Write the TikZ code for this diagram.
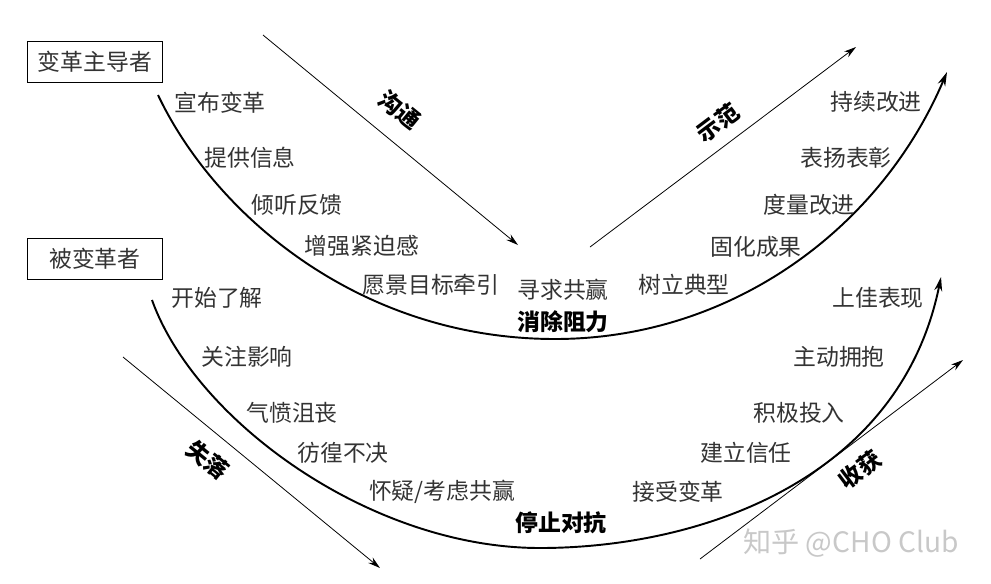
\documentclass[tikz,border=0pt]{standalone}
\usepackage{fontspec}
\setmainfont{Noto Sans CJK SC}
\usetikzlibrary{arrows.meta, positioning}
\definecolor{labelGrey}{RGB}{51, 51, 51}
\definecolor{markGrey}{RGB}{200, 200, 200}

\begin{document}
\begin{tikzpicture}[x=0.02cm, y=-0.02cm,
    every node/.style={font=\fontsize{13}{15}\selectfont, text=labelGrey, inner sep=0pt},
    role/.style={draw, line width=1pt, minimum width=2.7cm, minimum height=0.82cm},
    phase/.style={font=\fontsize{13}{15}\selectfont\bfseries, text=black},
    flow/.style={-{Stealth[length=7pt, width=4pt]}, line width=0.45pt},
    curve/.style={-{Stealth[length=8pt, width=4.5pt]}, line width=1.1pt}]
    \useasboundingbox (0,0) rectangle (991,583);
    % Roles
    \node[role] (leader) at (95, 62) {变革主导者};
    \node[role] (follower) at (95, 259) {被变革者};
    % Upper curve
    \coordinate (upStart) at (158, 95);
    \coordinate (upLow) at (555, 339);
    \coordinate (upEnd) at (947, 72);
    \draw[curve] (upStart) .. controls (215, 215) and (360, 339) .. (upLow)
        .. controls (730, 339) and (880, 230) .. (upEnd);
    % Lower curve
    \coordinate (lowStart) at (152, 300);
    \coordinate (lowLow) at (540, 548);
    \coordinate (lowEnd) at (941, 277);
    \draw[curve] (lowStart) .. controls (195, 420) and (370, 548) .. (lowLow)
        .. controls (700, 548) and (900, 480) .. (lowEnd);
    % Straight arrows
    \coordinate (talkA) at (263, 35);
    \coordinate (talkB) at (518, 245);
    \coordinate (showA) at (590, 247);
    \coordinate (showB) at (856, 47);
    \coordinate (lossA) at (123, 357);
    \coordinate (lossB) at (380, 568);
    \coordinate (gainA) at (700, 559);
    \coordinate (gainB) at (963, 360);
    \draw[flow] (talkA) -- (talkB);
    \draw[flow] (showA) -- (showB);
    \draw[flow] (lossA) -- (lossB);
    \draw[flow] (gainA) -- (gainB);
    \node[phase, rotate=-39] (talk) at (400, 110) {沟通};
    \node[phase, rotate=37] (show) at (718, 123) {示范};
    \node[phase, rotate=-39] (loss) at (208, 460) {失落};
    \node[phase, rotate=37] (gain) at (860, 470) {收获};
    % Leader stages
    \node (s1) at (220, 103) {宣布变革};
    \node (s2) at (250, 158) {提供信息};
    \node (s3) at (297, 205) {倾听反馈};
    \node (s4) at (362, 246) {增强紧迫感};
    \node (s5) at (431, 285) {愿景目标牵引};
    \node (s6) at (563, 290) {寻求共赢};
    \node[phase] (upPhase) at (563, 322) {消除阻力};
    \node (s7) at (684, 285) {树立典型};
    \node (s8) at (756, 247) {固化成果};
    \node (s9) at (809, 205) {度量改进};
    \node (s10) at (846, 158) {表扬表彰};
    \node (s11) at (876, 102) {持续改进};
    % Follower stages
    \node (f1) at (217, 298) {开始了解};
    \node (f2) at (247, 357) {关注影响};
    \node (f3) at (292, 413) {气愤沮丧};
    \node (f4) at (343, 453) {彷徨不决};
    \node (f5) at (442, 492) {怀疑/考虑共赢};
    \node[phase] (lowPhase) at (561, 523) {停止对抗};
    \node (f6) at (678, 492) {接受变革};
    \node (f7) at (746, 453) {建立信任};
    \node (f8) at (799, 413) {积极投入};
    \node (f9) at (839, 357) {主动拥抱};
    \node (f10) at (878, 298) {上佳表现};
    % Watermark
    \node[font=\fontsize{16}{18}\selectfont, text=markGrey] (mark) at (851, 543) {知乎 @CHO Club};
\end{tikzpicture}
\end{document}
